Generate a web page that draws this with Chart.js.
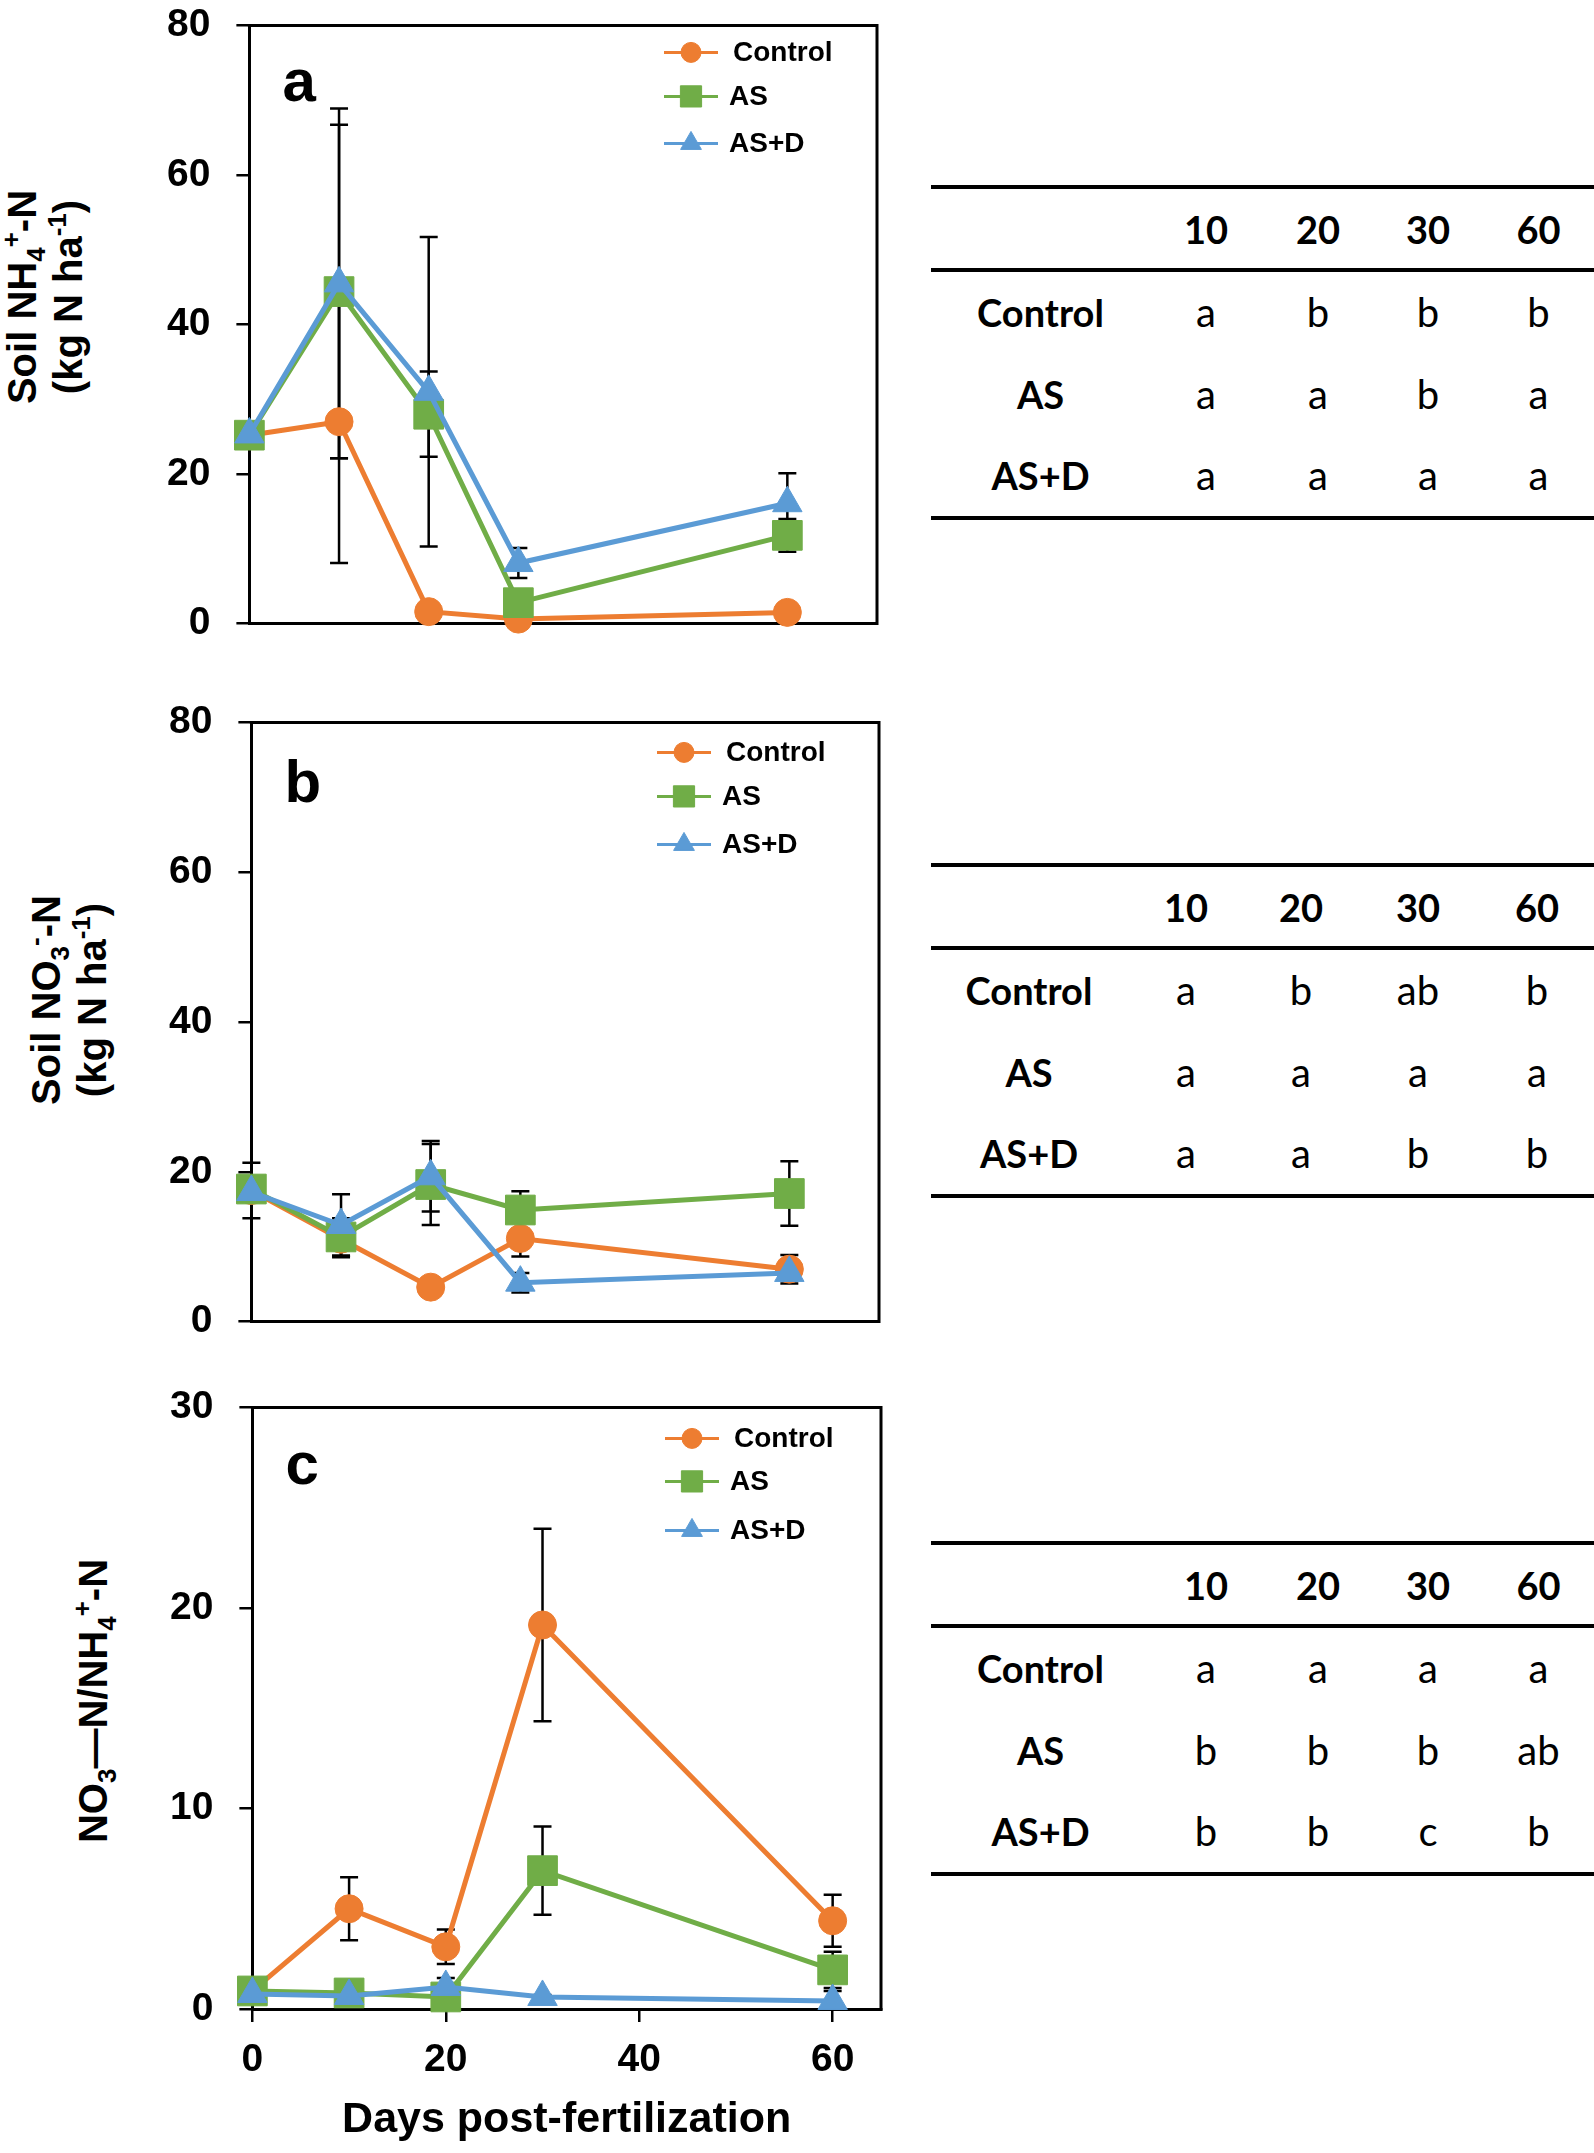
<!DOCTYPE html>
<html>
<head>
<meta charset="utf-8">
<script src="https://cdn.jsdelivr.net/npm/chart.js@4.4.1/dist/chart.umd.min.js"></script>
<style>
body { margin: 0; background: #fff; }
#page { position: relative; width: 1594px; height: 2153px; overflow: hidden; background: #fff; }
canvas.panel { position: absolute; left: 0; }
.ytitle {
  position: absolute; width: 400px; text-align: center; white-space: nowrap;
  font: bold 40px 'Liberation Sans', Arial, sans-serif; line-height: 46px; color: #000;
  transform: rotate(-90deg);
}
.ytitle sub, .ytitle sup { font-size: 65%; line-height: 0; position: relative; vertical-align: baseline; }
.ytitle sub { top: 0.35em; }
.ytitle sup { top: -0.6em; }
table.letters {
  position: absolute; border-collapse: collapse; table-layout: fixed;
  font-family: Lato, 'Open Sans', sans-serif; font-size: 38px; color: #000;
  border-top: 4px solid #000; border-bottom: 4px solid #000;
}
table.letters th, table.letters td { padding: 0; text-align: center; vertical-align: middle; }
table.letters thead tr { height: 83px; }
table.letters thead th { border-bottom: 4px solid #000; font-weight: bold; }
table.letters tbody tr { height: 82.5px; }
table.letters tbody th { font-weight: bold; }
table.letters tbody td { font-weight: normal; font-size: 40px; }
</style>
</head>
<body>
<div id="page">
  <canvas id="chartA" class="panel" width="900" height="700"></canvas>
  <canvas id="chartB" class="panel" width="900" height="700"></canvas>
  <canvas id="chartC" class="panel" width="900" height="800"></canvas>

  <div class="ytitle" style="left:-155px;top:251px;height:92px">Soil NH<sub>4</sub><sup>+</sup>-N<br>(kg N ha<sup>-1</sup>)</div>
  <div class="ytitle" style="left:-131px;top:954px;height:92px">Soil NO<sub>3</sub><sup>-</sup>-N<br>(kg N ha<sup>-1</sup>)</div>
  <div class="ytitle" style="left:-107px;top:1678px;height:46px">NO<sub>3</sub>—N/NH<sub>4</sub><sup>+</sup>-N</div>
</div>
<script>
// sampling days
const days = [0, 10, 20, 30, 60];
const seriesNames = ['Control', 'AS', 'AS+D'];
const seriesColors = ['#ED7D31', '#70AD47', '#5B9BD5'];
const seriesMarkers = ['circle', 'rect', 'triangle'];

// (a) soil NH4+-N, kg N/ha
const nh4Control = [25.2, 27.0, 1.6, 0.6, 1.5];
const nh4ControlErr = [0, 18.9, 0.8, 0.4, 0.6];
const nh4AS = [25.2, 44.4, 28.0, 2.8, 11.8];
const nh4ASErr = [0, 22.3, 5.7, 0.9, 2.2];
const nh4ASD = [25.3, 45.5, 31.0, 8.1, 16.1];
const nh4ASDErr = [0, 23.4, 20.7, 2.0, 4.0];

// (b) soil NO3--N, kg N/ha
const no3Control = [17.5, 11.0, 4.6, 11.1, 7.0];
const no3ControlErr = [3.7, 2.4, 0.8, 2.4, 1.9];
const no3AS = [17.7, 11.3, 18.3, 14.9, 17.1];
const no3ASErr = [1.0, 2.5, 5.4, 2.5, 4.3];
const no3ASD = [17.3, 12.9, 19.4, 5.2, 6.5];
const no3ASDErr = [1.0, 4.1, 4.7, 1.3, 0.8];

// (c) NO3-N / NH4-N ratio
const ratioControl = [0.9, 5.0, 3.1, 19.15, 4.4];
const ratioControlErr = [0.1, 1.57, 0.86, 4.8, 1.3];
const ratioAS = [0.9, 0.8, 0.6, 6.9, 1.95];
const ratioASErr = [0.1, 0.2, 0.2, 2.2, 0.9];
const ratioASD = [0.75, 0.65, 1.1, 0.6, 0.4];
const ratioASDErr = [0.1, 0.1, 0.45, 0.1, 0.5];

const yTicksAB = [0, 20, 40, 60, 80];
const yTicksC = [0, 10, 20, 30];
const xTicksC = [0, 20, 40, 60];
const xTitle = 'Days post-fertilization';

// significance letters (rows: Control, AS, AS+D)
const tableDays = ['10', '20', '30', '60'];
const lettersA = [['a', 'b', 'b', 'b'], ['a', 'a', 'b', 'a'], ['a', 'a', 'a', 'a']];
const lettersB = [['a', 'b', 'ab', 'b'], ['a', 'a', 'a', 'a'], ['a', 'a', 'b', 'b']];
const lettersC = [['a', 'a', 'a', 'a'], ['b', 'b', 'b', 'ab'], ['b', 'b', 'c', 'b']];

Chart.defaults.font.family = "'Liberation Sans', Arial, sans-serif";
Chart.defaults.color = '#000';

const markerRadius = [14, 21, 17];
const legendRadius = [10, 15, 12];

// frame, error bars, legend and panel letter
const decorPlugin = {
  id: 'decor',
  beforeDatasetsDraw(chart) {
    const {ctx, chartArea: a, scales: {x, y}} = chart;
    ctx.save();
    ctx.strokeStyle = '#000';
    ctx.lineWidth = 3;
    ctx.beginPath();
    ctx.moveTo(a.left - 1.5, a.top);
    ctx.lineTo(a.right, a.top);
    ctx.lineTo(a.right, a.bottom + 1.5);
    ctx.stroke();

    ctx.lineWidth = 2.5;
    chart.data.datasets.forEach(ds => {
      ds.data.forEach((pt, j) => {
        const e = ds.errors[j];
        if (!e) return;
        const px = x.getPixelForValue(pt.x);
        const y1 = y.getPixelForValue(pt.y + e);
        const y2 = y.getPixelForValue(Math.max(pt.y - e, 0));
        ctx.beginPath();
        ctx.moveTo(px, y1); ctx.lineTo(px, y2);
        ctx.moveTo(px - 9, y1); ctx.lineTo(px + 9, y1);
        ctx.moveTo(px - 9, y2); ctx.lineTo(px + 9, y2);
        ctx.stroke();
      });
    });
    ctx.restore();
  },
  afterDatasetsDraw(chart, args, opts) {
    const {ctx, chartArea: a} = chart;
    ctx.save();
    const lx = a.right - opts.lineFromRight;
    const tx = a.right - opts.textFromRight;
    seriesNames.forEach((name, i) => {
      const ly = a.top + opts.rows[i];
      ctx.strokeStyle = seriesColors[i];
      ctx.fillStyle = seriesColors[i];
      ctx.lineWidth = 3;
      ctx.beginPath();
      ctx.moveTo(lx - 27, ly); ctx.lineTo(lx + 27, ly);
      ctx.stroke();
      ctx.lineWidth = 1;
      Chart.helpers.drawPoint(ctx, {pointStyle: seriesMarkers[i], radius: legendRadius[i], rotation: 0, borderWidth: 1}, lx, ly);
      ctx.fillStyle = '#000';
      ctx.font = "bold 28px 'Liberation Sans', Arial, sans-serif";
      ctx.textBaseline = 'middle';
      ctx.textAlign = 'left';
      ctx.fillText(name, tx + (i === 0 ? 4 : 0), ly + 1);
    });
    ctx.font = "bold 60px 'Liberation Sans', Arial, sans-serif";
    ctx.textBaseline = 'alphabetic';
    ctx.fillStyle = '#000';
    ctx.fillText(opts.letter, a.left + 33, a.top + opts.letterY);
    ctx.restore();
  }
};

function buildChart(canvasId, p) {
  const datasets = p.values.map((vals, i) => ({
    label: seriesNames[i],
    data: days.map((d, j) => ({x: d, y: vals[j]})),
    errors: p.errors[i],
    borderColor: seriesColors[i],
    backgroundColor: seriesColors[i],
    pointBackgroundColor: seriesColors[i],
    pointBorderColor: seriesColors[i],
    borderWidth: 5,
    pointStyle: seriesMarkers[i],
    pointRadius: markerRadius[i],
    pointBorderWidth: 1,
    tension: 0,
    clip: false,
    order: 3 - i
  }));

  const xScale = {
    type: 'linear', min: 0, max: p.xMax,
    ticks: {display: false},
    grid: {display: false},
    border: {display: true, color: '#000', width: 3},
    afterFit: s => { s.height = p.xHeight; }
  };
  if (p.xTicks) {
    xScale.afterBuildTicks = s => { s.ticks = p.xTicks.map(v => ({value: v})); };
    xScale.ticks = {display: true, padding: 15, color: '#000', maxRotation: 0, font: {size: 39, weight: 'bold'}};
    xScale.grid = {display: true, drawOnChartArea: false, drawTicks: true, tickLength: 13, color: '#000', lineWidth: 2.5};
    xScale.title = {display: true, text: xTitle, color: '#000', font: {size: 43, weight: 'bold'}, padding: {top: 0, bottom: 7}};
  }

  const chart = new Chart(document.getElementById(canvasId), {
    type: 'line',
    data: {datasets: datasets},
    plugins: [decorPlugin],
    options: {
      responsive: false,
      maintainAspectRatio: false,
      animation: false,
      events: [],
      layout: {padding: {top: 0, right: 0, left: 0, bottom: 0}},
      plugins: {
        legend: {display: false},
        tooltip: {enabled: false},
        decor: p.decor
      },
      scales: {
        x: xScale,
        y: {
          type: 'linear', min: 0, max: p.yMax,
          afterBuildTicks: s => { s.ticks = p.yTicks.map(v => ({value: v})); },
          ticks: {padding: 26, color: '#000', font: {size: 39, weight: 'bold'}},
          grid: {display: true, drawOnChartArea: false, drawTicks: true, tickLength: 13, color: '#000', lineWidth: 2.5},
          border: {display: true, color: '#000', width: 3}
        }
      }
    }
  });
  placeChart(chart, p.area);
  return chart;
}

// size and move the canvas so the plot area lands on the target box
function placeChart(chart, box) {
  for (let k = 0; k < 3; k++) {
    const a = chart.chartArea;
    const w = Math.round(chart.width + (box.right - box.left) - (a.right - a.left));
    const h = Math.round(chart.height + (box.bottom - box.top) - (a.bottom - a.top));
    chart.resize(w, h);
  }
  const a = chart.chartArea;
  chart.canvas.style.left = (box.left - a.left) + 'px';
  chart.canvas.style.top = (box.top - a.top) + 'px';
}

buildChart('chartA', {
  values: [nh4Control, nh4AS, nh4ASD],
  errors: [nh4ControlErr, nh4ASErr, nh4ASDErr],
  xMax: 70, yMax: 80, yTicks: yTicksAB, xHeight: 37,
  area: {left: 249, right: 877, top: 25, bottom: 623},
  decor: {letter: 'a', letterY: 76, lineFromRight: 186, textFromRight: 148, rows: [27, 71, 118]}
});

buildChart('chartB', {
  values: [no3Control, no3AS, no3ASD],
  errors: [no3ControlErr, no3ASErr, no3ASDErr],
  xMax: 70, yMax: 80, yTicks: yTicksAB, xHeight: 36,
  area: {left: 251, right: 879, top: 722, bottom: 1321},
  decor: {letter: 'b', letterY: 80, lineFromRight: 195, textFromRight: 157, rows: [30, 74, 122]}
});

buildChart('chartC', {
  values: [ratioControl, ratioAS, ratioASD],
  errors: [ratioControlErr, ratioASErr, ratioASDErr],
  xMax: 65, yMax: 30, yTicks: yTicksC, xTicks: xTicksC, xHeight: 144,
  area: {left: 252, right: 881, top: 1407, bottom: 2009},
  decor: {letter: 'c', letterY: 77, lineFromRight: 189, textFromRight: 151, rows: [31, 74, 123]}
});

// significance tables
function buildTable(letters, layout) {
  const t = document.createElement('table');
  t.className = 'letters';
  t.style.left = layout.left + 'px';
  t.style.top = layout.top + 'px';
  t.style.width = layout.cols.reduce((s, w) => s + w, 0) + 'px';
  const cg = document.createElement('colgroup');
  layout.cols.forEach(w => {
    const c = document.createElement('col');
    c.style.width = w + 'px';
    cg.appendChild(c);
  });
  t.appendChild(cg);
  const head = t.createTHead().insertRow();
  head.appendChild(document.createElement('th'));
  tableDays.forEach(d => {
    const th = document.createElement('th');
    th.textContent = d;
    head.appendChild(th);
  });
  const body = t.createTBody();
  seriesNames.forEach((name, i) => {
    const r = body.insertRow();
    const th = document.createElement('th');
    th.textContent = name;
    r.appendChild(th);
    letters[i].forEach(l => { r.insertCell().textContent = l; });
  });
  document.getElementById('page').appendChild(t);
}

buildTable(lettersA, {left: 931, top: 185, cols: [219, 112, 112, 108, 113]});
buildTable(lettersB, {left: 931, top: 863, cols: [196, 118, 112, 122, 116]});
buildTable(lettersC, {left: 931, top: 1541, cols: [219, 112, 112, 108, 113]});
</script>
</body>
</html>
